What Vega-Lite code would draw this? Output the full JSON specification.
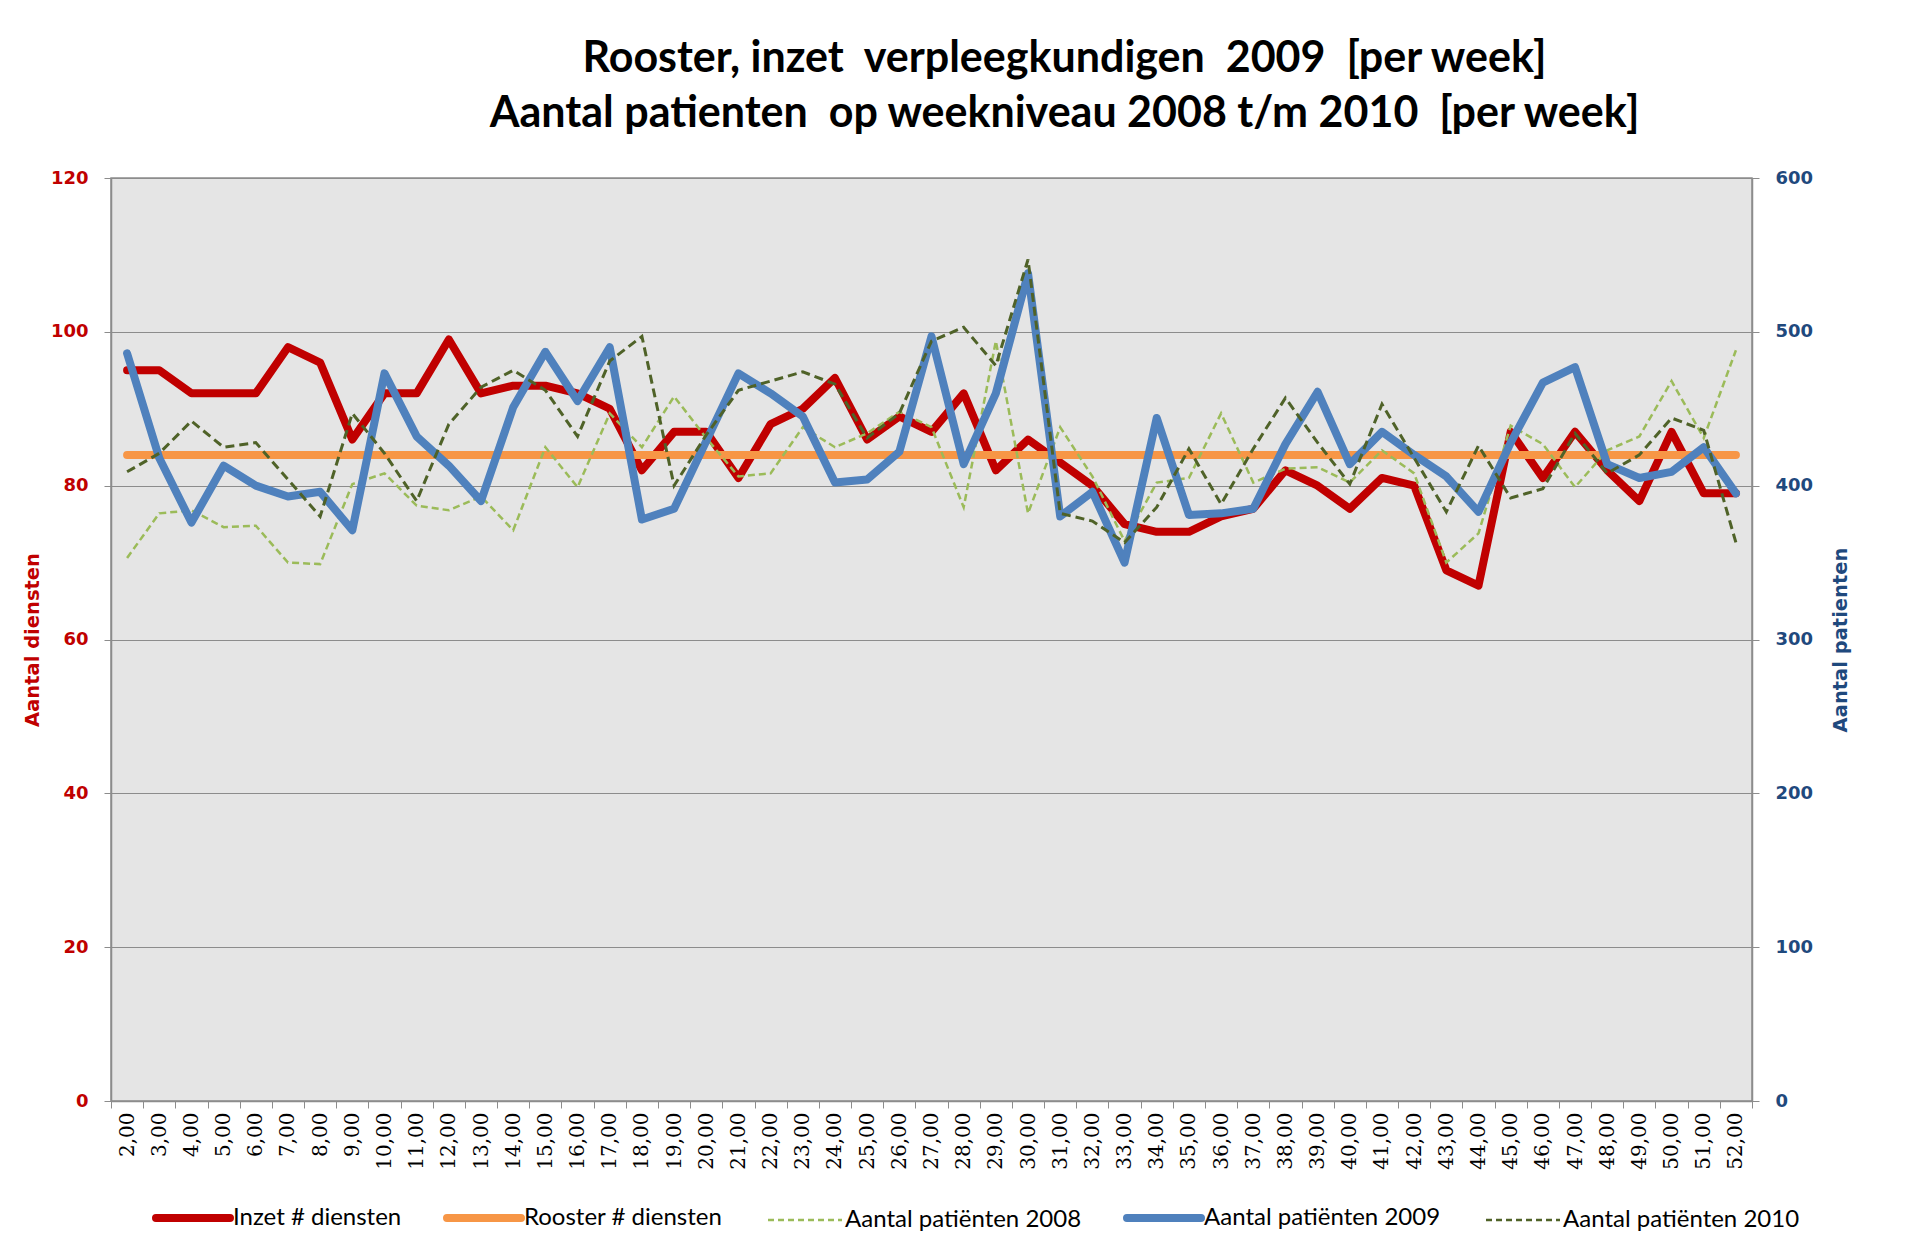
{
  "$schema": "https://vega.github.io/schema/vega-lite/v6.json",
  "width": 1641,
  "height": 923,
  "padding": {"left": 22, "top": 38, "right": 10, "bottom": 5},
  "background": "white",
  "config": {
    "view": {"fill": "#E5E5E5", "stroke": "#8C8C8C", "strokeWidth": 1.5}
  },
  "title": {
    "text": ["Rooster, inzet \u00a0verpleegkundigen \u00a02009 \u00a0[per week]", "Aantal patienten \u00a0op weekniveau 2008 t/m 2010 \u00a0[per week]"],
    "font": "Lato",
    "fontSize": 43,
    "fontWeight": "bold",
    "color": "black",
    "lineHeight": 55,
    "anchor": "middle",
    "dx": 133,
    "offset": 33
  },
  "data": {
    "values": [
      {"week": 2, "inzet": 95, "rooster": 84, "p2008": 353, "p2009": 486, "p2010": 409},
      {"week": 3, "inzet": 95, "rooster": 84, "p2008": 382, "p2009": 418, "p2010": 421},
      {"week": 4, "inzet": 92, "rooster": 84, "p2008": 384, "p2009": 376, "p2010": 442},
      {"week": 5, "inzet": 92, "rooster": 84, "p2008": 373, "p2009": 413, "p2010": 425},
      {"week": 6, "inzet": 92, "rooster": 84, "p2008": 374, "p2009": 400, "p2010": 428},
      {"week": 7, "inzet": 98, "rooster": 84, "p2008": 350, "p2009": 393, "p2010": 404},
      {"week": 8, "inzet": 96, "rooster": 84, "p2008": 349, "p2009": 396, "p2010": 380},
      {"week": 9, "inzet": 86, "rooster": 84, "p2008": 401, "p2009": 371, "p2010": 447},
      {"week": 10, "inzet": 92, "rooster": 84, "p2008": 408, "p2009": 473, "p2010": 421},
      {"week": 11, "inzet": 92, "rooster": 84, "p2008": 387, "p2009": 432, "p2010": 390},
      {"week": 12, "inzet": 99, "rooster": 84, "p2008": 384, "p2009": 413, "p2010": 440},
      {"week": 13, "inzet": 92, "rooster": 84, "p2008": 393, "p2009": 390, "p2010": 464},
      {"week": 14, "inzet": 93, "rooster": 84, "p2008": 371, "p2009": 451, "p2010": 475},
      {"week": 15, "inzet": 93, "rooster": 84, "p2008": 425, "p2009": 487, "p2010": 462},
      {"week": 16, "inzet": 92, "rooster": 84, "p2008": 399, "p2009": 455, "p2010": 432},
      {"week": 17, "inzet": 90, "rooster": 84, "p2008": 447, "p2009": 490, "p2010": 481},
      {"week": 18, "inzet": 82, "rooster": 84, "p2008": 425, "p2009": 378, "p2010": 497},
      {"week": 19, "inzet": 87, "rooster": 84, "p2008": 458, "p2009": 385, "p2010": 400},
      {"week": 20, "inzet": 87, "rooster": 84, "p2008": 431, "p2009": 429, "p2010": 433},
      {"week": 21, "inzet": 81, "rooster": 84, "p2008": 406, "p2009": 473, "p2010": 462},
      {"week": 22, "inzet": 88, "rooster": 84, "p2008": 408, "p2009": 460, "p2010": 468},
      {"week": 23, "inzet": 90, "rooster": 84, "p2008": 438, "p2009": 445, "p2010": 474},
      {"week": 24, "inzet": 94, "rooster": 84, "p2008": 425, "p2009": 402, "p2010": 466},
      {"week": 25, "inzet": 86, "rooster": 84, "p2008": 434, "p2009": 404, "p2010": 431},
      {"week": 26, "inzet": 89, "rooster": 84, "p2008": 448, "p2009": 422, "p2010": 447},
      {"week": 27, "inzet": 87, "rooster": 84, "p2008": 438, "p2009": 497, "p2010": 494},
      {"week": 28, "inzet": 92, "rooster": 84, "p2008": 386, "p2009": 414, "p2010": 503},
      {"week": 29, "inzet": 82, "rooster": 84, "p2008": 494, "p2009": 460, "p2010": 478},
      {"week": 30, "inzet": 86, "rooster": 84, "p2008": 382, "p2009": 538, "p2010": 547},
      {"week": 31, "inzet": 83, "rooster": 84, "p2008": 438, "p2009": 380, "p2010": 382},
      {"week": 32, "inzet": 80, "rooster": 84, "p2008": 406, "p2009": 396, "p2010": 377},
      {"week": 33, "inzet": 75, "rooster": 84, "p2008": 364, "p2009": 350, "p2010": 363},
      {"week": 34, "inzet": 74, "rooster": 84, "p2008": 402, "p2009": 444, "p2010": 386},
      {"week": 35, "inzet": 74, "rooster": 84, "p2008": 405, "p2009": 381, "p2010": 424},
      {"week": 36, "inzet": 76, "rooster": 84, "p2008": 447, "p2009": 382, "p2010": 388},
      {"week": 37, "inzet": 77, "rooster": 84, "p2008": 402, "p2009": 385, "p2010": 424},
      {"week": 38, "inzet": 82, "rooster": 84, "p2008": 411, "p2009": 427, "p2010": 457},
      {"week": 39, "inzet": 80, "rooster": 84, "p2008": 412, "p2009": 461, "p2010": 428},
      {"week": 40, "inzet": 77, "rooster": 84, "p2008": 402, "p2009": 414, "p2010": 401},
      {"week": 41, "inzet": 81, "rooster": 84, "p2008": 423, "p2009": 435, "p2010": 453},
      {"week": 42, "inzet": 80, "rooster": 84, "p2008": 408, "p2009": 420, "p2010": 418},
      {"week": 43, "inzet": 69, "rooster": 84, "p2008": 350, "p2009": 406, "p2010": 383},
      {"week": 44, "inzet": 67, "rooster": 84, "p2008": 369, "p2009": 383, "p2010": 426},
      {"week": 45, "inzet": 87, "rooster": 84, "p2008": 439, "p2009": 428, "p2010": 392},
      {"week": 46, "inzet": 81, "rooster": 84, "p2008": 427, "p2009": 467, "p2010": 398},
      {"week": 47, "inzet": 87, "rooster": 84, "p2008": 399, "p2009": 477, "p2010": 434},
      {"week": 48, "inzet": 82, "rooster": 84, "p2008": 423, "p2009": 414, "p2010": 408},
      {"week": 49, "inzet": 78, "rooster": 84, "p2008": 432, "p2009": 405, "p2010": 420},
      {"week": 50, "inzet": 87, "rooster": 84, "p2008": 468, "p2009": 409, "p2010": 444},
      {"week": 51, "inzet": 79, "rooster": 84, "p2008": 431, "p2009": 425, "p2010": 436},
      {"week": 52, "inzet": 79, "rooster": 84, "p2008": 488, "p2009": 395, "p2010": 363}
    ]
  },
  "transform": [
    {"fold": ["inzet", "rooster", "p2008", "p2009", "p2010"], "as": ["serie", "waarde"]}
  ],
  "encoding": {
    "x": {
      "field": "week",
      "type": "ordinal",
      "bandPosition": 0.5,
      "scale": {"type": "band", "paddingInner": 0, "paddingOuter": 0},
      "axis": {
        "title": null,
        "labelAngle": -90,
        "labelFont": "DejaVu Serif",
        "labelFontSize": 20,
        "labelColor": "black",
        "labelOverlap": false,
        "labelExpr": "datum.value > 0 ? replace(format(datum.value, '.2f'), '.', ',') : ''",
        "tickBand": "extent",
        "tickSize": 7,
        "tickColor": "#8C8C8C",
        "tickWidth": 1,
        "domainColor": "#8C8C8C",
        "domainWidth": 1.5,
        "labelPadding": 4,
        "grid": false
      }
    },
    "color": {
      "field": "serie",
      "type": "nominal",
      "scale": {
        "domain": ["inzet", "rooster", "p2008", "p2009", "p2010"],
        "range": ["#C00000", "#F79646", "#9BBB59", "#4F81BD", "#4F6228"]
      },
      "legend": {
        "orient": "bottom",
        "direction": "horizontal",
        "title": null,
        "offset": 36,
        "symbolType": "stroke",
        "symbolSize": 5476,
        "symbolStrokeWidth": 8,
        "symbolOffset": 70,
        "labelFont": "Lato",
        "labelFontSize": 24,
        "labelColor": "black",
        "labelOffset": 28,
        "columnPadding": 0,
        "labelLimit": 400,
        "labelExpr": "datum.value == 'inzet' ? 'Inzet # diensten' : datum.value == 'rooster' ? 'Rooster # diensten' : datum.value == 'p2008' ? 'Aantal patiënten 2008' : datum.value == 'p2009' ? 'Aantal patiënten 2009' : 'Aantal patiënten 2010'",
        "encode": {
          "symbols": {
            "update": {
              "strokeWidth": {"signal": "datum.value == 'p2008' || datum.value == 'p2010' ? 2.5 : 8"},
              "strokeDash": {"signal": "datum.value == 'p2008' || datum.value == 'p2010' ? [6, 4] : [1, 0]"},
              "strokeCap": {"signal": "datum.value == 'p2008' || datum.value == 'p2010' ? 'butt' : 'round'"}
            }
          }
        }
      }
    }
  },
  "layer": [
    {
      "encoding": {
        "y": {
          "field": "waarde",
          "type": "quantitative",
          "scale": {"domain": [0, 120]},
          "axis": {
            "title": "Aantal diensten",
            "values": [0, 20, 40, 60, 80, 100, 120],
            "titleColor": "#C00000",
            "titleFont": "DejaVu Sans",
            "titleFontSize": 19.5,
            "titleFontWeight": "bold",
            "titlePadding": 8,
            "labelColor": "#C00000",
            "labelFont": "DejaVu Sans",
            "labelFontSize": 18,
            "labelFontWeight": "bold",
            "labelPadding": 16,
            "tickSize": 7,
            "tickColor": "#8C8C8C",
            "domainColor": "#8C8C8C",
            "domainWidth": 1.5,
            "grid": true,
            "gridColor": "#8C8C8C",
            "gridWidth": 1
          }
        }
      },
      "layer": [
        {
          "transform": [{"filter": "datum.serie == 'inzet'"}],
          "mark": {"type": "line", "strokeWidth": 8, "strokeJoin": "round", "strokeCap": "round"}
        },
        {
          "transform": [{"filter": "datum.serie == 'rooster'"}],
          "mark": {"type": "line", "strokeWidth": 8, "strokeJoin": "round", "strokeCap": "round"}
        }
      ]
    },
    {
      "encoding": {
        "y": {
          "field": "waarde",
          "type": "quantitative",
          "scale": {"domain": [0, 600]},
          "axis": {
            "orient": "right",
            "title": "Aantal patienten",
            "titleAngle": -90,
            "values": [0, 100, 200, 300, 400, 500, 600],
            "titleColor": "#1F497D",
            "titleFont": "DejaVu Sans",
            "titleFontSize": 19.5,
            "titleFontWeight": "bold",
            "titlePadding": 38,
            "labelColor": "#1F497D",
            "labelFont": "DejaVu Sans",
            "labelFontSize": 18,
            "labelFontWeight": "bold",
            "labelPadding": 16,
            "tickSize": 7,
            "tickColor": "#8C8C8C",
            "domainColor": "#8C8C8C",
            "domainWidth": 1.5,
            "grid": false
          }
        }
      },
      "layer": [
        {
          "transform": [{"filter": "datum.serie == 'p2008'"}],
          "mark": {"type": "line", "strokeWidth": 2.5, "strokeDash": [7, 4]}
        },
        {
          "transform": [{"filter": "datum.serie == 'p2009'"}],
          "mark": {"type": "line", "strokeWidth": 8, "strokeJoin": "round", "strokeCap": "round"}
        },
        {
          "transform": [{"filter": "datum.serie == 'p2010'"}],
          "mark": {"type": "line", "strokeWidth": 3, "strokeDash": [9, 5]}
        }
      ]
    }
  ],
  "resolve": {"scale": {"y": "independent"}}
}
